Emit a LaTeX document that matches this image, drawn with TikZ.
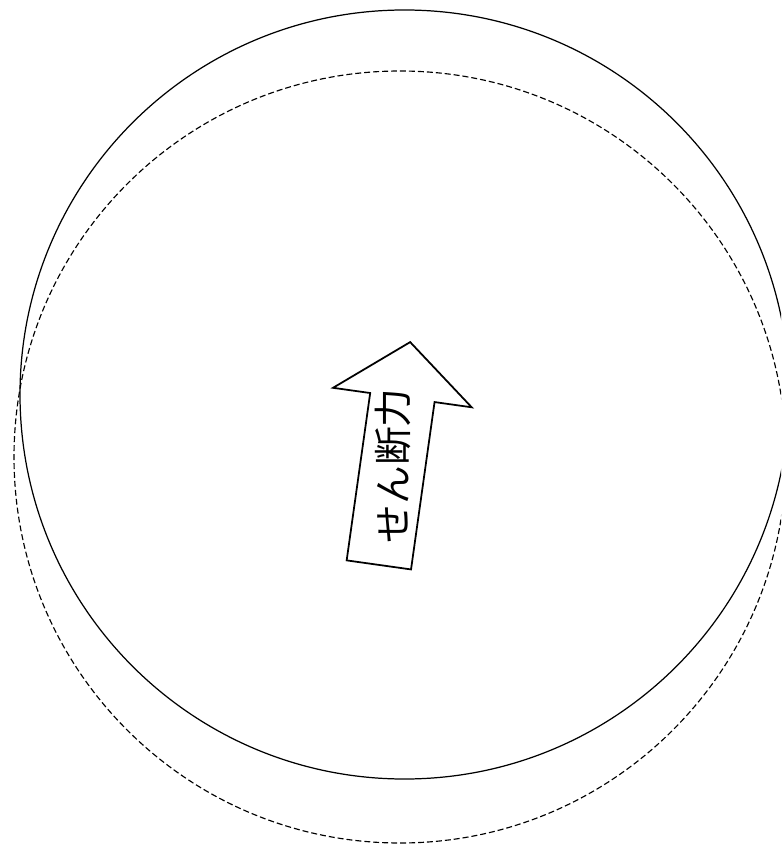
\documentclass[tikz,border=0pt]{standalone}
\usepackage{fontspec}
\newfontfamily\jpfont{Noto Sans CJK JP}
\usepackage{tikz}
\usetikzlibrary{calc}
\tikzset{
  rim/.style={draw,line width=0.7pt},
  oldrim/.style={draw,line width=0.65pt,dash pattern=on 3.4pt off 1.7pt},
  blk/.style={draw,line width=1pt,fill=white,line join=miter},
  lbl/.style={font=\jpfont\fontsize{22}{26}\selectfont,inner sep=0pt},
}

\begin{document}
\begin{tikzpicture}
  \useasboundingbox (0,0) rectangle (15.62,-16.9);
  \clip (0,0) rectangle (15.62,-16.9);
  % displaced disc (dashed) and original disc
  \coordinate (c0) at (8.0,-9.14);
  \coordinate (c1) at (8.09,-7.89);
  \draw[oldrim] (c0) circle (7.72);
  \draw[rim] (c1) circle (7.69);
  % shear force arrow
  \begin{scope}[shift={(7.89,-9.07)},rotate=-8]
    \draw[blk] (-0.65,-2.25) -- (0.65,-2.25) -- (0.65,1.13) -- (1.4,1.13)
      -- (0,2.25) -- (-1.4,1.13) -- (-0.65,1.13) -- cycle;
    \node[lbl,rotate=90] (shear) at (0,-0.25) {せん断力};
  \end{scope}
\end{tikzpicture}
\end{document}
